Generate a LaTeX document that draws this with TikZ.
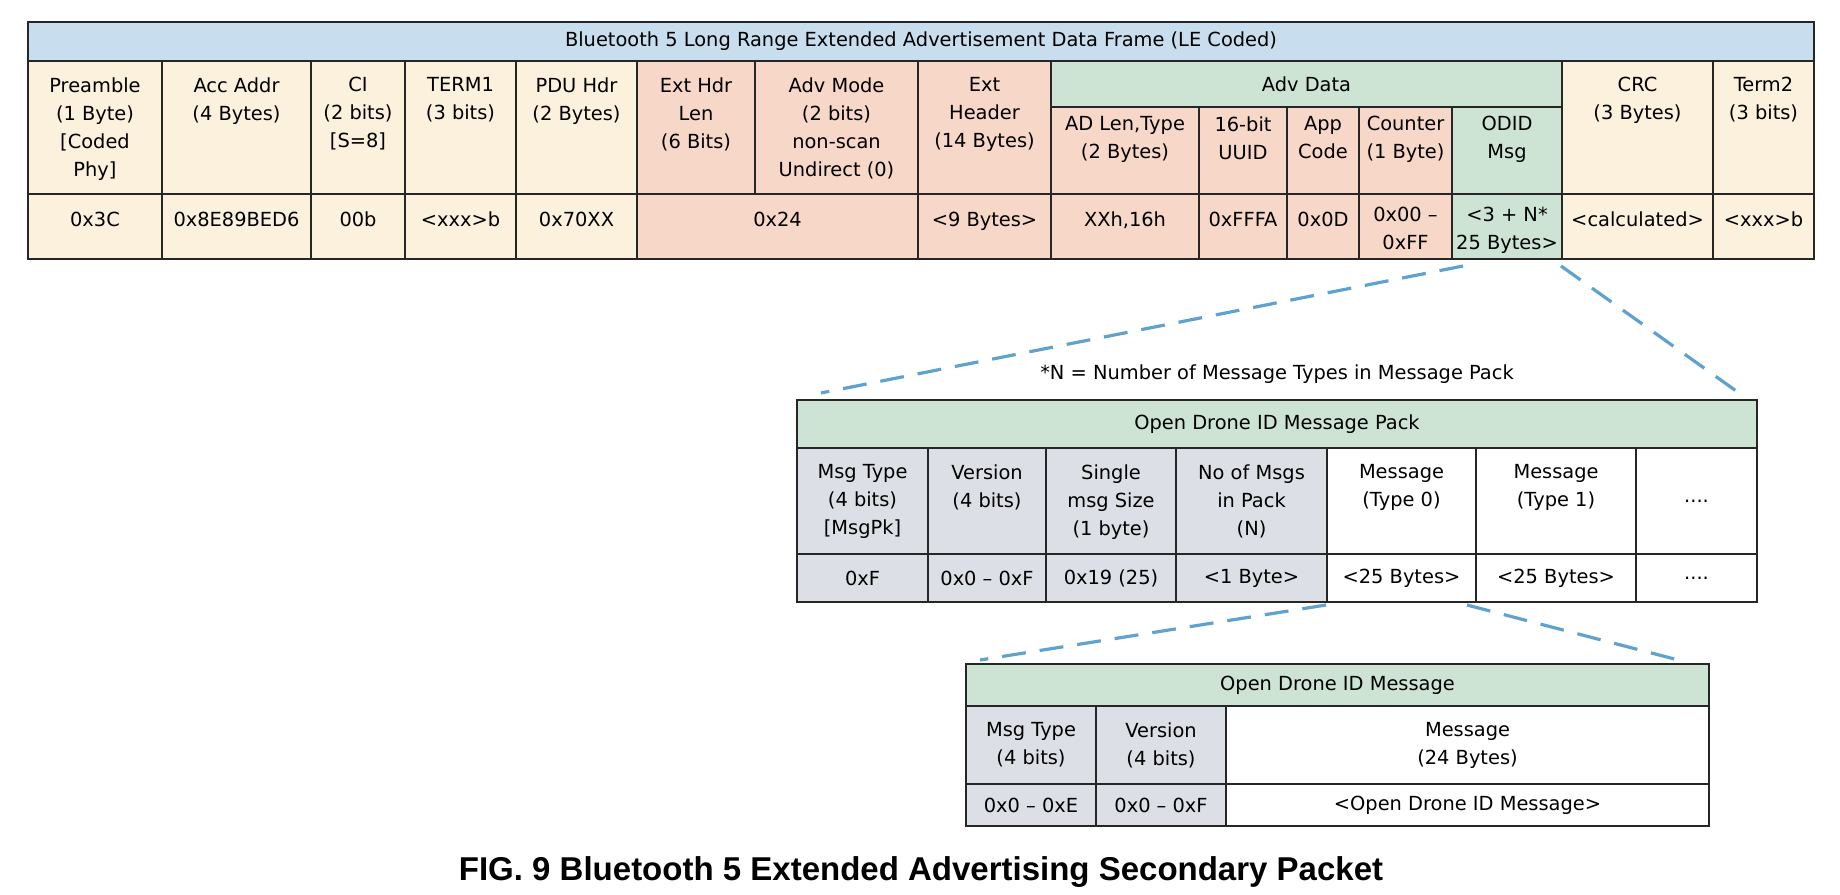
\documentclass[tikz,border=0pt]{standalone}
\usepackage{fontspec}
\setmainfont{DejaVu Sans}
\newfontfamily\capfont{Liberation Sans}
\usepackage{tikz}
\usetikzlibrary{fit}
\usepackage{xcolor}
\definecolor{bandblue}{HTML}{C8DDEE}
\definecolor{cream}{HTML}{FBF1DD}
\definecolor{salmon}{HTML}{F7D8C8}
\definecolor{mint}{HTML}{CDE3D3}
\definecolor{steel}{HTML}{DCDFE5}
\definecolor{dashblue}{HTML}{5FA2D0}

\begin{document}
\begin{tikzpicture}[x=0.5pt,y=-0.5pt,
    font=\fontsize{9.7}{14}\selectfont,
    cell/.style={draw=black!85,line width=1pt,inner sep=0pt},
    txt/.style={align=center,anchor=north,inner sep=0pt,yshift=-8.5pt,execute at begin node=\strut},
    subtxt/.style={txt,yshift=3.5pt},
    valtxt/.style={txt,yshift=1.75pt},
    ctr/.style={align=center,anchor=center,inner sep=0pt},
    zoomline/.style={draw=dashblue,line width=1.6pt,dash pattern=on 12pt off 7pt}]
    \useasboundingbox (0,0) rectangle (1840,894);
    % Bluetooth 5 frame
    \node[cell,fill=bandblue,fit={(28,22) (1814,61)},label={[ctr]center:{Bluetooth 5 Long Range Extended Advertisement Data Frame (LE Coded)}}] (frame) {};
    \node[cell,fill=cream,fit={(28,61) (162,194)},label={[txt]north:{Preamble\\(1 Byte)\\{[}Coded\\Phy]}}] (pre) {};
    \node[cell,fill=cream,fit={(162,61) (311,194)},label={[txt]north:{Acc Addr\\(4 Bytes)}}] (acc) {};
    \node[cell,fill=cream,fit={(311,61) (405,194)},label={[txt]north:{CI\\(2 bits)\\{[}S=8]}}] (ci) {};
    \node[cell,fill=cream,fit={(405,61) (516,194)},label={[txt]north:{TERM1\\(3 bits)}}] (term1) {};
    \node[cell,fill=cream,fit={(516,61) (637,194)},label={[txt]north:{PDU Hdr\\(2 Bytes)}}] (pdu) {};
    \node[cell,fill=salmon,fit={(637,61) (755,194)},label={[txt]north:{Ext Hdr\\Len\\(6 Bits)}}] (ehlen) {};
    \node[cell,fill=salmon,fit={(755,61) (918,194)},label={[txt]north:{Adv Mode\\(2 bits)\\non-scan\\Undirect (0)}}] (mode) {};
    \node[cell,fill=salmon,fit={(918,61) (1051,194)},label={[txt]north:{Ext\\Header\\(14 Bytes)}}] (exthdr) {};
    \node[cell,fill=mint,fit={(1051,61) (1562,107)},label={[ctr]center:{Adv Data}}] (adv) {};
    \node[cell,fill=salmon,fit={(1051,107) (1199,194)},label={[subtxt]north:{AD Len,Type\\(2 Bytes)}}] (adlen) {};
    \node[cell,fill=salmon,fit={(1199,107) (1287,194)},label={[subtxt]north:{16-bit\\UUID}}] (uuid) {};
    \node[cell,fill=salmon,fit={(1287,107) (1359,194)},label={[subtxt]north:{App\\Code}}] (app) {};
    \node[cell,fill=salmon,fit={(1359,107) (1452,194)},label={[subtxt]north:{Counter\\(1 Byte)}}] (cnt) {};
    \node[cell,fill=mint,fit={(1452,107) (1562,194)},label={[subtxt]north:{ODID\\Msg}}] (odid) {};
    \node[cell,fill=cream,fit={(1562,61) (1713,194)},label={[txt]north:{CRC\\(3 Bytes)}}] (crc) {};
    \node[cell,fill=cream,fit={(1713,61) (1814,194)},label={[txt]north:{Term2\\(3 bits)}}] (term2) {};
    % values
    \node[cell,fill=cream,fit={(28,194) (162,259)},label={[valtxt]north:{0x3C}}] (vpre) {};
    \node[cell,fill=cream,fit={(162,194) (311,259)},label={[valtxt]north:{0x8E89BED6}}] (vacc) {};
    \node[cell,fill=cream,fit={(311,194) (405,259)},label={[valtxt]north:{00b}}] (vci) {};
    \node[cell,fill=cream,fit={(405,194) (516,259)},label={[valtxt]north:{<xxx>b}}] (vterm1) {};
    \node[cell,fill=cream,fit={(516,194) (637,259)},label={[valtxt]north:{0x70XX}}] (vpdu) {};
    \node[cell,fill=salmon,fit={(637,194) (918,259)},label={[valtxt]north:{0x24}}] (vmode) {};
    \node[cell,fill=salmon,fit={(918,194) (1051,259)},label={[valtxt]north:{<9 Bytes>}}] (vexthdr) {};
    \node[cell,fill=salmon,fit={(1051,194) (1199,259)},label={[valtxt]north:{XXh,16h}}] (vadlen) {};
    \node[cell,fill=salmon,fit={(1199,194) (1287,259)},label={[valtxt]north:{0xFFFA}}] (vuuid) {};
    \node[cell,fill=salmon,fit={(1287,194) (1359,259)},label={[valtxt]north:{0x0D}}] (vapp) {};
    \node[cell,fill=salmon,fit={(1359,194) (1452,259)},label={[valtxt]north:{0x00 --\\0xFF}}] (vcnt) {};
    \node[cell,fill=mint,fit={(1452,194) (1562,259)},label={[valtxt]north:{<3 + N*\\25 Bytes>}}] (vodid) {};
    \node[cell,fill=cream,fit={(1562,194) (1713,259)},label={[valtxt]north:{<calculated>}}] (vcrc) {};
    \node[cell,fill=cream,fit={(1713,194) (1814,259)},label={[valtxt]north:{<xxx>b}}] (vterm2) {};

    \node (note) at (1277,374) {*N = Number of Message Types in Message Pack};

    % message pack
    \node[cell,fill=mint,fit={(797,400) (1757,448)},label={[ctr]center:{Open Drone ID Message Pack}}] (pack) {};
    \node[cell,fill=steel,fit={(797,448) (928,554)},label={[txt]north:{Msg Type\\(4 bits)\\{[}MsgPk]}}] (ptype) {};
    \node[cell,fill=steel,fit={(928,448) (1046,554)},label={[txt]north:{Version\\(4 bits)}}] (pver) {};
    \node[cell,fill=steel,fit={(1046,448) (1176,554)},label={[txt]north:{Single\\msg Size\\(1 byte)}}] (psize) {};
    \node[cell,fill=steel,fit={(1176,448) (1327,554)},label={[txt]north:{No of Msgs\\in Pack\\(N)}}] (pnum) {};
    \node[cell,fill=white,fit={(1327,448) (1476,554)},label={[txt]north:{Message\\(Type 0)}}] (pmsg0) {};
    \node[cell,fill=white,fit={(1476,448) (1636,554)},label={[txt]north:{Message\\(Type 1)}}] (pmsg1) {};
    \node[cell,fill=white,fit={(1636,448) (1757,554)},label={[ctr]center:{....}}] (pmore) {};
    \node[cell,fill=steel,fit={(797,554) (928,602)},label={[ctr]center:{0xF}}] (vptype) {};
    \node[cell,fill=steel,fit={(928,554) (1046,602)},label={[ctr]center:{0x0 -- 0xF}}] (vpver) {};
    \node[cell,fill=steel,fit={(1046,554) (1176,602)},label={[ctr]center:{0x19 (25)}}] (vpsize) {};
    \node[cell,fill=steel,fit={(1176,554) (1327,602)},label={[ctr]center:{<1 Byte>}}] (vpnum) {};
    \node[cell,fill=white,fit={(1327,554) (1476,602)},label={[ctr]center:{<25 Bytes>}}] (vpmsg0) {};
    \node[cell,fill=white,fit={(1476,554) (1636,602)},label={[ctr]center:{<25 Bytes>}}] (vpmsg1) {};
    \node[cell,fill=white,fit={(1636,554) (1757,602)},label={[ctr]center:{....}}] (vpmore) {};

    % single message
    \node[cell,fill=mint,fit={(966,664) (1709,706)},label={[ctr]center:{Open Drone ID Message}}] (omsg) {};
    \node[cell,fill=steel,fit={(966,706) (1096,784)},label={[txt]north:{Msg Type\\(4 bits)}}] (otype) {};
    \node[cell,fill=steel,fit={(1096,706) (1226,784)},label={[txt]north:{Version\\(4 bits)}}] (over) {};
    \node[cell,fill=white,fit={(1226,706) (1709,784)},label={[txt]north:{Message\\(24 Bytes)}}] (obody) {};
    \node[cell,fill=steel,fit={(966,784) (1096,826)},label={[ctr]center:{0x0 -- 0xE}}] (votype) {};
    \node[cell,fill=steel,fit={(1096,784) (1226,826)},label={[ctr]center:{0x0 -- 0xF}}] (vover) {};
    \node[cell,fill=white,fit={(1226,784) (1709,826)},label={[ctr]center:{<Open Drone ID Message>}}] (vobody) {};

    \node[font=\capfont\bfseries\fontsize{16.5}{18}\selectfont] (cap) at (921,872) {FIG. 9 Bluetooth 5 Extended Advertising Secondary Packet};

    % zoom lines
    \draw[zoomline] ([xshift=6pt,yshift=-3pt]vodid.south west) -- ([xshift=12.5pt,yshift=3pt]pack.north west);
    \draw[zoomline] ([xshift=-1pt,yshift=-3pt]vodid.south east) -- ([xshift=-6pt,yshift=0.5pt]pack.north east);
    \draw[zoomline] ([yshift=-1pt]vpmsg0.south west) -- ([xshift=7.5pt,yshift=1.5pt]omsg.north west);
    \draw[zoomline] ([xshift=-5pt,yshift=-1pt]vpmsg0.south east) -- ([xshift=-12pt,yshift=0.5pt]omsg.north east);
  \end{tikzpicture}
\end{document}
